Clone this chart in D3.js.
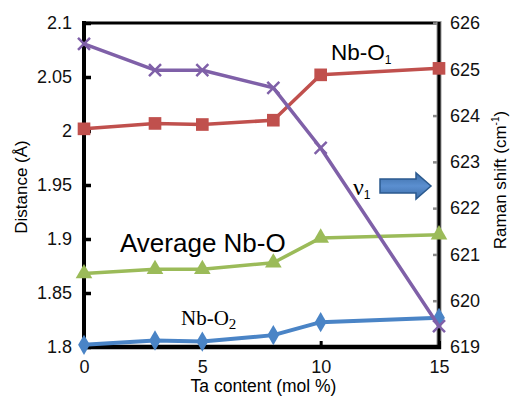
<!DOCTYPE html>
<html>
<head>
<meta charset="utf-8">
<script src="https://cdn.jsdelivr.net/npm/d3@7"></script>
<style>
  html, body { margin: 0; padding: 0; background: #fff; }
  svg { display: block; font-family: "Liberation Sans", Arial, sans-serif; }
</style>
</head>
<body>
<svg id="chart" width="513" height="400"></svg>
<script>
// ---- data ----
const taContent = [0, 3, 5, 8, 10, 15];
const nbO1 = [2.002, 2.007, 2.006, 2.010, 2.052, 2.058];
const avgNbO = [1.868, 1.872, 1.872, 1.878, 1.901, 1.904];
const nbO2 = [1.802, 1.806, 1.805, 1.811, 1.823, 1.827];
const ramanShift = [625.55, 624.98, 624.98, 624.6, 623.3, 619.45];

const xTicks = [0, 5, 10, 15];
const leftTicks = [1.8, 1.85, 1.9, 1.95, 2.0, 2.05, 2.1];
const rightTicks = [619, 620, 621, 622, 623, 624, 625, 626];

const svg = d3.select('#chart');
const m = { left: 84, right: 439, top: 23, bottom: 347 };

const x = d3.scaleLinear().domain([0, 15]).range([m.left, m.right]);
const yL = d3.scaleLinear().domain([1.8, 2.1]).range([m.bottom, m.top]);
const yR = d3.scaleLinear().domain([619, 626]).range([m.bottom, m.top]);

//____________________________________________________________
// frame
svg.append('line').attr('x1', m.left).attr('x2', m.right).attr('y1', m.top).attr('y2', m.top)
    .attr('stroke', '#000').attr('stroke-width', 3);

// right axis (gray ticks, inward)
const rAxis = svg.append('g').attr('transform', `translate(${m.right},0)`)
    .call(d3.axisRight(yR).tickValues(rightTicks).tickSize(0).tickPadding(11).tickFormat(d3.format('d')));
rAxis.select('.domain').remove();
rAxis.selectAll('text').attr('font-size', 18).attr('fill', '#111');
rAxis.selectAll('.tick').append('line').attr('x1', -6).attr('x2', 0)
    .attr('stroke', '#888').attr('stroke-width', 2.5);
svg.append('line').attr('x1', m.right).attr('x2', m.right).attr('y1', m.top - 2).attr('y2', m.bottom + 2)
    .attr('stroke', '#999').attr('stroke-width', 5);
svg.append('line').attr('x1', m.right).attr('x2', m.right).attr('y1', m.top - 1).attr('y2', m.bottom + 1)
    .attr('stroke', '#000').attr('stroke-width', 3);

// left axis (black ticks, inward)
const lAxis = svg.append('g').attr('transform', `translate(${m.left},0)`)
    .call(d3.axisLeft(yL).tickValues(leftTicks).tickSize(0).tickPadding(12).tickFormat(d => d3.format('')(+d.toFixed(2))));
lAxis.select('.domain').remove();
lAxis.selectAll('text').attr('font-size', 18).attr('fill', '#111');
lAxis.selectAll('.tick').append('line').attr('x1', 0).attr('x2', 7)
    .attr('stroke', '#000').attr('stroke-width', 3.5);
svg.append('line').attr('x1', m.left).attr('x2', m.left).attr('y1', m.top - 2).attr('y2', m.bottom + 2)
    .attr('stroke', '#000').attr('stroke-width', 4);

// bottom axis
const bAxis = svg.append('g').attr('transform', `translate(0,${m.bottom})`)
    .call(d3.axisBottom(x).tickValues(xTicks).tickSize(0).tickPadding(13));
bAxis.select('.domain').remove();
bAxis.selectAll('text').attr('font-size', 18).attr('fill', '#111');
bAxis.selectAll('.tick').append('line').attr('y1', 0).attr('y2', -6)
    .attr('stroke', '#000').attr('stroke-width', 3);
svg.append('line').attr('x1', m.left - 2).attr('x2', m.right + 2).attr('y1', m.bottom).attr('y2', m.bottom)
    .attr('stroke', '#000').attr('stroke-width', 4.5);

// axis titles
svg.append('text').attr('transform', `translate(${x(7.5) + 2},392)`).attr('text-anchor', 'middle')
    .attr('font-size', 17.5).text('Ta content (mol %)');
svg.append('text').attr('transform', `translate(27,${(m.top + m.bottom) / 2 + 2}) rotate(-90)`)
    .attr('text-anchor', 'middle').attr('font-size', 17).text('Distance (Å)');
const rt = svg.append('text').attr('transform', `translate(506,${(m.top + m.bottom) / 2 - 5}) rotate(-90)`)
    .attr('text-anchor', 'middle').attr('font-size', 17);
rt.append('tspan').text('Raman shift (cm');
rt.append('tspan').attr('font-size', 10).attr('dy', -7).text('-1');
rt.append('tspan').attr('dy', 7).text(')');

//____________________________________________________________
// series
const series = [
    { vals: nbO1, y: yL, color: '#c0504d', sym: d3.symbolSquare, size: 160, w: 3.5 },
    { vals: avgNbO, y: yL, color: '#9bbb59', sym: d3.symbolTriangle, size: 120, w: 3.5 },
    { vals: nbO2, y: yL, color: '#4a84c6', sym: d3.symbolDiamond, size: 120, w: 4 },
    { vals: ramanShift, y: yR, color: '#7f60a8', sym: null, size: 0, w: 3.5 },
];

series.forEach(s => {
    const pts = taContent.map((t, i) => [x(t), s.y(s.vals[i])]);
    svg.append('path').datum(pts)
        .attr('d', d3.line())
        .attr('fill', 'none').attr('stroke', s.color).attr('stroke-width', s.w)
        .attr('stroke-linejoin', 'round');
    const g = svg.append('g');
    if (s.sym) {
        g.selectAll('path').data(pts).join('path')
            .attr('transform', d => `translate(${d[0]},${d[1]})`)
            .attr('d', d3.symbol().type(s.sym).size(s.size))
            .attr('fill', s.color);
    } else {
        g.selectAll('path').data(pts).join('path')
            .attr('transform', d => `translate(${d[0]},${d[1]})`)
            .attr('d', 'M-6,-6L6,6M-6,6L6,-6')
            .attr('stroke', s.color).attr('stroke-width', 2.5);
    }
});

//____________________________________________________________
// annotations
const t1 = svg.append('text').attr('x', 331).attr('y', 60).attr('font-size', 22.5);
t1.append('tspan').text('Nb-O');
t1.append('tspan').attr('font-size', 12).attr('dy', 4).text('1');

svg.append('text').attr('x', 120).attr('y', 252).attr('font-size', 26).text('Average Nb-O');

const t2 = svg.append('text').attr('x', 181).attr('y', 325).attr('font-size', 21)
    .attr('font-family', '"Liberation Serif", "Times New Roman", serif');
t2.append('tspan').text('Nb-O');
t2.append('tspan').attr('font-size', 15).attr('dy', 4).text('2');

const t3 = svg.append('text').attr('x', 353).attr('y', 195).attr('font-size', 24)
    .attr('font-family', '"Liberation Serif", "Times New Roman", serif');
t3.append('tspan').text('ν');
t3.append('tspan').attr('font-size', 12).attr('dy', 4)
    .attr('font-family', '"Liberation Sans", Arial, sans-serif').text('1');

const grad = svg.append('defs').append('linearGradient').attr('id', 'arrowGrad')
    .attr('x1', 0).attr('x2', 0).attr('y1', 0).attr('y2', 1);
grad.append('stop').attr('offset', '0%').attr('stop-color', '#3d6ea8');
grad.append('stop').attr('offset', '50%').attr('stop-color', '#5b8fd0');
grad.append('stop').attr('offset', '100%').attr('stop-color', '#3d6ea8');

svg.append('path')
    .attr('d', 'M380,179 L416,179 L416,173 L431,186 L416,199 L416,193 L380,193 Z')
    .attr('fill', 'url(#arrowGrad)').attr('stroke', '#2b5a8f').attr('stroke-width', 1.5);
</script>
</body>
</html>
